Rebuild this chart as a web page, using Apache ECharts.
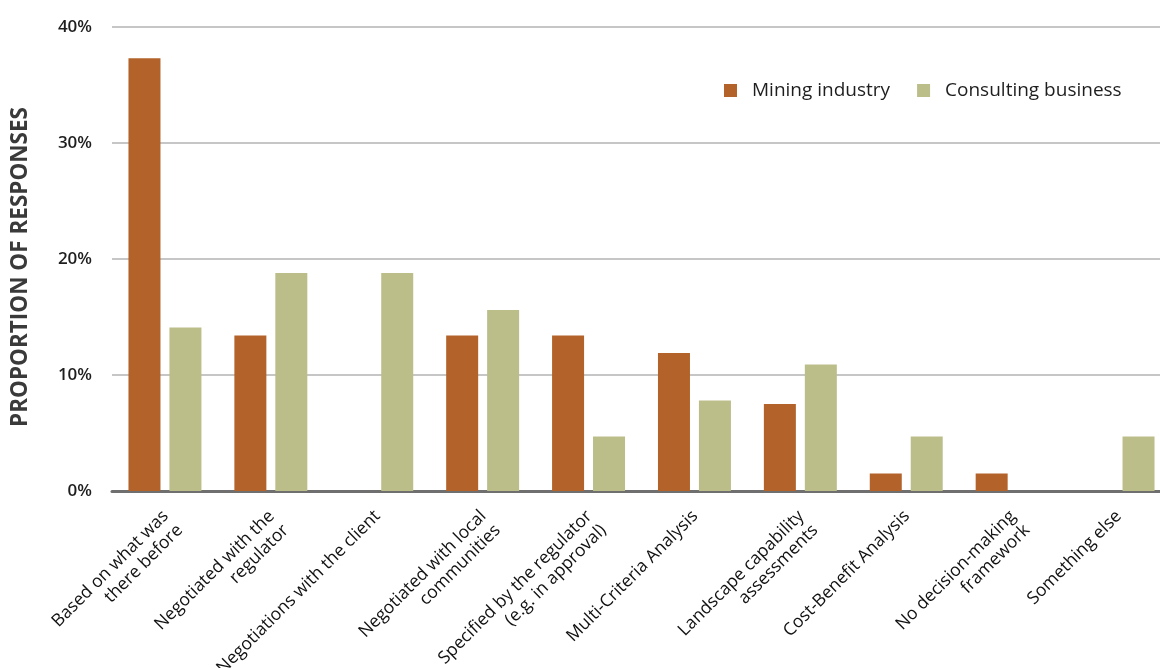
<!DOCTYPE html>
<html>
<head>
<meta charset="utf-8">
<script src="https://cdn.jsdelivr.net/npm/echarts@6/dist/echarts.min.js"></script>
<style>
  html, body { margin: 0; padding: 0; background: #ffffff; }
  #chart { width: 1160px; height: 668px; }
</style>
</head>
<body>
<div id="chart"></div>
<script>
// Decision-making basis, share of responses by sector (%)
const categories = [
  'Based on what was\nthere before',
  'Negotiated with the\nregulator',
  'Negotiations with the client',
  'Negotiated with local\ncommunities',
  'Specified by the regulator\n(e.g. in approval)',
  'Multi-Criteria Analysis',
  'Landscape capability\nassessments',
  'Cost-Benefit Analysis',
  'No decision-making\nframework',
  'Something else'
];
const miningIndustry = [37.3, 13.4, 0, 13.4, 13.4, 11.9, 7.5, 1.5, 1.5, 0];
const consultingBusiness = [14.1, 18.8, 18.8, 15.6, 4.7, 7.8, 10.9, 4.7, 0, 4.7];
const yTicks = [0, 10, 20, 30, 40];

const FONT = '"Open Sans", "Noto Sans", sans-serif';
const chart = echarts.init(document.getElementById('chart'), null, { renderer: 'canvas' });

chart.setOption({
  animation: false,
  backgroundColor: '#ffffff',
  textStyle: { fontFamily: FONT },
  legend: {
    left: 724,
    top: 81,
    padding: 0,
    itemWidth: 13,
    itemHeight: 13,
    itemGap: 27,
    icon: 'rect',
    textStyle: { fontFamily: FONT, fontSize: 19, color: '#1e1e1e', padding: [0, 0, 0, 10] },
    data: ['Mining industry', 'Consulting business']
  },
  grid: { left: 112, right: -11, top: 27, bottom: 177, containLabel: false, outerBoundsMode: 'none' },
  xAxis: {
    type: 'category',
    data: categories,
    axisTick: { show: false },
    axisLine: { show: true, lineStyle: { color: '#6f6f6f', width: 3 } },
    axisLabel: {
      interval: 0,
      rotate: 45,
      margin: 9,
      verticalAlign: 'top',
      align: 'right',
      padding: [0, 9, 0, 0],
      fontFamily: FONT,
      fontSize: 17.5,
      fontWeight: 500,
      color: '#111111',
      lineHeight: 20
    }
  },
  yAxis: {
    type: 'value',
    min: yTicks[0],
    max: yTicks[yTicks.length - 1],
    interval: 10,
    name: 'PROPORTION OF RESPONSES',
    nameLocation: 'middle',
    nameRotate: 90,
    nameGap: 80,
    nameTextStyle: {
      fontFamily: FONT, fontSize: 22.5, fontWeight: 'bold', color: '#3a3a3a',
      padding: [0, 16, 0, 0]
    },
    axisLine: { show: false },
    axisTick: { show: false },
    axisLabel: {
      margin: 20,
      fontFamily: FONT,
      fontSize: 17,
      fontWeight: 600,
      color: '#1e1e1e',
      formatter: '{value}%'
    },
    splitLine: { show: true, lineStyle: { color: '#c6c6c6', width: 2 } }
  },
  series: [
    {
      name: 'Mining industry',
      type: 'bar',
      data: miningIndustry,
      barWidth: 32,
      barGap: '28%',
      itemStyle: { color: '#b3632a' }
    },
    {
      name: 'Consulting business',
      type: 'bar',
      data: consultingBusiness,
      barWidth: 32,
      barGap: '28%',
      itemStyle: { color: '#bbbe88' }
    }
  ]
});
</script>
</body>
</html>
